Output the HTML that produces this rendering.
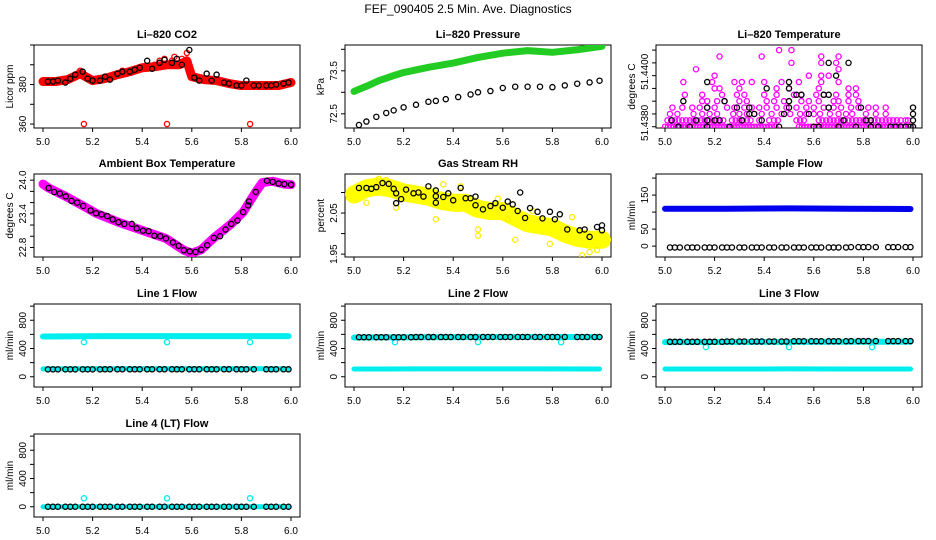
<!DOCTYPE html>
<html><head><meta charset="utf-8">
<style>
html,body{margin:0;padding:0;background:#fff;}
svg{display:block;font-family:"Liberation Sans",Arial,sans-serif;}
</style></head>
<body>
<svg id="chart" width="936" height="540" viewBox="0 0 936 540">
<text x="468" y="13" text-anchor="middle" font-size="12">FEF_090405  2.5 Min. Ave. Diagnostics</text>
</svg>
<script>
// ---------- data ----------
const xTicks = [5.0,5.2,5.4,5.6,5.8,6.0];
const xTickLabels = ["5.0","5.2","5.4","5.6","5.8","6.0"];

// CO2
const co2BlackX = [5.02,5.04,5.06,5.09,5.11,5.13,5.16,5.18,5.20,5.23,5.25,5.27,5.30,5.32,5.35,5.37,5.39,5.42,5.44,5.47,5.49,5.52,5.54,5.56,5.59,5.61,5.63,5.66,5.68,5.70,5.73,5.75,5.78,5.80,5.82,5.85,5.87,5.90,5.92,5.94,5.97,5.99];
const co2BlackY = [381.5,381.5,382,381,383,385,386.5,383,382,382,384,382.5,385.5,386.5,386.5,387.5,388.5,392,388,391,392.5,391,393,390,397.5,383.5,382,385.5,382,385,381,380.5,379.5,379.5,382,379.5,379.5,379.5,379.5,380,380.5,381];
const co2RedX = [5.0,5.05,5.1,5.15,5.2,5.25,5.3,5.35,5.4,5.45,5.5,5.55,5.58,5.6,5.65,5.7,5.75,5.8,5.85,5.9,5.95,6.0];
const co2RedY = [381.5,381.5,382.5,385.5,382,383,385,386.5,388.5,389,390,390,392,384,382.5,382,380.5,379.5,379.5,379.5,379.5,381];
const co2RedPtsX = [5.165,5.5,5.835,5.49,5.53,5.58,5.56,5.15,5.32,5.47,5.52,5.45];
const co2RedPtsY = [360,360,360,393,394,396,393,387,387,392,392,390];

// Pressure
const presBlackX = [5.02,5.05,5.09,5.13,5.16,5.20,5.25,5.30,5.33,5.37,5.42,5.47,5.50,5.55,5.60,5.65,5.70,5.75,5.80,5.85,5.90,5.95,5.99];
const presBlackY = [72.24,72.32,72.43,72.52,72.58,72.65,72.71,72.78,72.80,72.84,72.89,72.95,73.0,73.03,73.1,73.13,73.13,73.13,73.12,73.16,73.2,73.23,73.27];
const presGreenX = [5.0,5.05,5.1,5.15,5.2,5.3,5.4,5.5,5.6,5.7,5.8,5.9,6.0];
const presGreenY = [73.02,73.14,73.27,73.37,73.46,73.58,73.68,73.81,73.91,73.97,73.93,73.99,74.07];

// Li-820 temperature (levels)
const tempMagLevels = [51.4380,51.43825,51.4385,51.43875,51.4390,51.43925,51.4395,51.43975,51.4400,51.44025,51.4405,51.44075,51.4410];
const tempMagXs = [
 [5.0,5.012,5.024,5.036,5.048,5.06,5.072,5.084,5.096,5.108,5.12,5.132,5.144,5.156,5.168,5.18,5.192,5.204,5.216,5.228,5.24,5.252,5.264,5.276,5.288,5.30,5.312,5.324,5.336,5.348,5.36,5.372,5.384,5.396,5.408,5.42,5.432,5.445,5.54,5.552,5.564,5.576,5.588,5.60,5.612,5.624,5.636,5.648,5.66,5.672,5.684,5.696,5.708,5.72,5.732,5.744,5.756,5.768,5.78,5.792,5.804,5.816,5.828,5.84,5.852,5.864,5.876,5.888,5.90,5.912,5.924,5.936,5.948,5.96,5.972,5.984],
 [5.01,5.025,5.04,5.055,5.07,5.085,5.10,5.115,5.13,5.145,5.16,5.175,5.19,5.205,5.22,5.235,5.27,5.285,5.30,5.315,5.33,5.345,5.38,5.42,5.44,5.455,5.53,5.545,5.56,5.62,5.635,5.65,5.665,5.68,5.695,5.71,5.725,5.74,5.755,5.77,5.785,5.80,5.815,5.83,5.845,5.86,5.875,5.89,5.905,5.92,5.935,5.95,5.97,5.98],
 [5.02,5.05,5.115,5.15,5.18,5.21,5.275,5.30,5.33,5.36,5.39,5.43,5.47,5.505,5.545,5.57,5.60,5.625,5.665,5.70,5.73,5.755,5.81,5.85,5.89],
 [5.03,5.07,5.11,5.14,5.17,5.20,5.25,5.28,5.32,5.35,5.38,5.41,5.45,5.49,5.53,5.57,5.60,5.64,5.68,5.71,5.75,5.78,5.82,5.85,5.89],
 [5.15,5.17,5.21,5.24,5.30,5.33,5.41,5.44,5.48,5.55,5.58,5.62,5.68,5.70,5.74,5.78],
 [5.08,5.15,5.23,5.29,5.32,5.40,5.45,5.52,5.55,5.61,5.64,5.69,5.74,5.77],
 [5.20,5.22,5.30,5.45,5.50,5.62,5.74,5.77],
 [5.074,5.19,5.28,5.31,5.35,5.40,5.47,5.54,5.63,5.70],
 [5.20,5.58,5.63,5.66],
 [5.125,5.70],
 [5.51,5.63,5.69],
 [5.22,5.39,5.63,5.70],
 [5.46,5.51]
];
const tempBlackX = [5.027,5.054,5.10,5.125,5.074,5.17,5.17,5.17,5.17,5.20,5.22,5.24,5.26,5.29,5.31,5.34,5.34,5.36,5.39,5.41,5.46,5.48,5.50,5.50,5.50,5.50,5.53,5.55,5.58,5.60,5.62,5.64,5.66,5.66,5.70,5.66,5.69,5.74,5.72,5.77,5.79,5.81,5.83,5.83,5.86,5.91,5.93,5.95,5.97,5.99,6.0,6.0,6.0,6.0];
const tempBlackY = [51.43825,51.4380,51.4380,51.43825,51.4390,51.43975,51.43875,51.43825,51.4380,51.43825,51.43825,51.4390,51.4380,51.43875,51.43825,51.43875,51.4385,51.4385,51.43825,51.4395,51.4380,51.4385,51.43975,51.4390,51.43875,51.4395,51.43925,51.43925,51.4385,51.4380,51.4380,51.43925,51.43875,51.43925,51.4380,51.4405,51.4400,51.4405,51.43825,51.4380,51.43875,51.43825,51.43825,51.4380,51.4380,51.4380,51.4380,51.4380,51.4380,51.4380,51.4380,51.43825,51.4385,51.43875];

// Ambient box temperature
const ambX = [5.023,5.045,5.068,5.092,5.115,5.138,5.162,5.192,5.214,5.236,5.259,5.281,5.304,5.328,5.358,5.378,5.403,5.426,5.449,5.473,5.496,5.524,5.547,5.568,5.592,5.615,5.638,5.662,5.689,5.714,5.736,5.759,5.784,5.807,5.827,5.831,5.858,5.903,5.926,5.95,5.973,6.0];
const ambY = [23.86,23.79,23.76,23.71,23.63,23.60,23.54,23.46,23.41,23.39,23.36,23.30,23.25,23.22,23.22,23.14,23.10,23.09,23.01,23.00,22.96,22.89,22.83,22.75,22.73,22.72,22.76,22.84,22.97,23.00,23.12,23.22,23.28,23.43,23.55,23.62,23.79,23.99,23.97,23.94,23.93,23.92];
const ambMagX = [5.0,5.023,5.092,5.162,5.214,5.304,5.403,5.496,5.568,5.60,5.638,5.689,5.759,5.807,5.858,5.885,5.926,5.973,6.0];
const ambMagY = [23.93,23.86,23.71,23.54,23.41,23.25,23.10,22.96,22.75,22.70,22.76,22.97,23.22,23.43,23.79,23.96,23.98,23.93,23.92];

// Gas stream RH
const rhBlackX = [5.02,5.05,5.07,5.09,5.115,5.14,5.16,5.17,5.17,5.19,5.21,5.24,5.26,5.28,5.30,5.33,5.33,5.33,5.36,5.38,5.40,5.43,5.45,5.47,5.49,5.49,5.52,5.55,5.57,5.60,5.62,5.64,5.66,5.67,5.69,5.71,5.74,5.76,5.79,5.81,5.83,5.86,5.91,5.93,5.95,5.98,6.0,6.0];
const rhBlackY = [2.111,2.111,2.109,2.113,2.123,2.121,2.109,2.098,2.074,2.084,2.107,2.098,2.1,2.09,2.115,2.105,2.091,2.075,2.089,2.098,2.081,2.111,2.086,2.086,2.09,2.069,2.059,2.067,2.074,2.063,2.078,2.071,2.055,2.1,2.038,2.062,2.053,2.037,2.053,2.035,2.047,2.010,2.008,2.010,1.992,2.016,2.02,2.008];
const rhYelX = [5.0,5.05,5.1,5.15,5.2,5.25,5.3,5.35,5.4,5.45,5.5,5.55,5.6,5.65,5.7,5.75,5.8,5.85,5.9,5.95,6.0];
const rhYelY = [2.095,2.11,2.115,2.11,2.1,2.095,2.09,2.08,2.075,2.075,2.06,2.055,2.055,2.04,2.025,2.02,2.015,2.0,1.99,1.985,1.985];
const rhYelPtsX = [5.5,5.5,5.05,5.17,5.33,5.62,5.92,5.95,5.98,5.79,5.65,5.10,5.13,5.36,5.43,5.58,5.72,5.88];
const rhYelPtsY = [2.01,1.995,2.075,2.063,2.035,2.035,1.947,1.955,1.96,1.975,1.985,2.133,2.13,2.12,2.115,2.085,2.055,2.04];

// Flows
const flowX = [5.0,5.25,5.5,5.75,5.99];
const flowBlackX = [5.02,5.04,5.06,5.09,5.11,5.13,5.16,5.18,5.20,5.23,5.25,5.27,5.30,5.32,5.35,5.37,5.39,5.42,5.44,5.47,5.49,5.52,5.54,5.56,5.59,5.61,5.63,5.66,5.68,5.70,5.73,5.75,5.78,5.80,5.82,5.85,5.90,5.92,5.94,5.97,5.99];
const sampleBlue = [110,110,111,110,109];
const sampleBlack = [-4,-4,-4,-3,0];
const line1CyanHi = [570,575,576,576,575];
const line1CyanLo = [112,113,114,113,112];
const line1Black = [105,106,106,106,107];
const line2CyanHi = [555,560,562,562,563];
const line2CyanLo = [110,111,112,111,110];
const line2Black = [560,562,563,563,565];
const line3CyanHi = [490,492,494,495,495];
const line3CyanLo = [110,110,111,110,110];
const line3Black = [495,500,503,505,508];
const line4Cyan = [0,0,0,0,0];
const line4Black = [0,0,0,0,0];
const outlierX = [5.165,5.5,5.835];
const line1Out = [490,490,490];
const line2Out = [490,490,490];
const line3Out = [420,420,420];
const line4Out = [120,120,120];

// ---------- drawing ----------
const NS = "http://www.w3.org/2000/svg";
const svg = document.getElementById("chart");
const colLeft = [34,345,656], rowTop = [45,174,304,434], W = 266, H = 83;
function mk(tag, attrs, parent){ const e=document.createElementNS(NS,tag); for(const k in attrs) e.setAttribute(k,attrs[k]); (parent||svg).appendChild(e); return e; }

function panel(col,row,name,title,ylab,ylim,yTicks,yLabels,labelPos){
  const g = mk("g",{});
  
  
  const L=colLeft[col], T=rowTop[row];
  const xs = v => L+9+(v-5)*248;
  const ys = v => T+H-(v-ylim[0])/(ylim[1]-ylim[0])*H;
  const box = mk("rect",{x:L,y:T,width:W,height:H,fill:"none",stroke:"#000","stroke-width":1},g);
  
  
  const t = mk("text",{x:L+W/2,y:T-7,"text-anchor":"middle","font-size":11,"font-weight":"bold"},g);
  t.textContent = title;
  
  
  const xa = mk("g",{},g);
  
  
  xTicks.forEach((v,i)=>{
    mk("line",{x1:xs(v),x2:xs(v),y1:T+H,y2:T+H+4,stroke:"#000"},xa);
    const tl = mk("text",{x:xs(v),y:T+H+17,"text-anchor":"middle","font-size":10},xa);
    tl.textContent = xTickLabels[i];
    
    
  });
  const ya = mk("g",{},g);
  
  
  yTicks.forEach((v,i)=>{
    mk("line",{x1:L,x2:L-4,y1:ys(v),y2:ys(v),stroke:"#000"},ya);
    if(yLabels[i]){
      const yy = labelPos ? ys(labelPos[i]) : ys(v);
      const tl = mk("text",{x:L-8,y:yy,"text-anchor":"middle","font-size":10,transform:`rotate(-90 ${L-8} ${yy})`},ya);
      tl.textContent = yLabels[i];
      
      
    }
  });
  const yl = mk("text",{x:L-21,y:T+H/2,"text-anchor":"middle","font-size":10,transform:`rotate(-90 ${L-21} ${T+H/2})`},g);
  yl.textContent = ylab;
  
  
  const clip = "c"+col+row;
  const cp = mk("clipPath",{id:clip},g);
  mk("rect",{x:L,y:T,width:W,height:H},cp);
  const plot = mk("g",{"clip-path":`url(#${clip})`},g);
  
  
  return {xs,ys,plot};
}
function band(p,X,Y,color,w,name){
  const pl = mk("polyline",{points:X.map((x,i)=>p.xs(x)+","+p.ys(Y[i])).join(" "),fill:"none",stroke:color,"stroke-width":w,"stroke-linejoin":"round","stroke-linecap":"round"},p.plot);
  
  
}
function pts(p,X,Y,color,name,r){
  const g = mk("g",{},p.plot);
  
  
  X.forEach((x,i)=>{
    const c = mk("circle",{cx:p.xs(x),cy:p.ys(Y[i]),r:r||2.6,fill:"none",stroke:color,"stroke-width":1.3},g);
    
    
  });
}

// CO2
let p = panel(0,0,"co2-panel","Li\u2013820 CO2","Licor ppm",[358,400],[360,370,380,390,400],["360","","380","",""]);
band(p,co2RedX,co2RedY,"#f00",9,"co2-red-band");
pts(p,co2RedPtsX,co2RedPtsY,"#f00","co2-red-points");
pts(p,co2BlackX,co2BlackY,"#000","co2-black-points");

// Pressure
p = panel(1,0,"pressure-panel","Li\u2013820 Pressure","kPa",[72.17,74.1],[72.5,73,73.5,74],["72.5","","73.5",""]);
band(p,presGreenX,presGreenY,"#22cc22",7,"pressure-green-band");
pts(p,presBlackX,presBlackY,"#000","pressure-black-points");

// Li-820 temperature
p = panel(2,0,"li820-temp-panel","Li\u2013820 Temperature","degrees C",[51.43795,51.4412],[51.4380,51.4385,51.4390,51.4395,51.4400,51.4405,51.4410],["51.4380","","","","51.4400","",""],[51.43815,0,0,0,51.44015,0,0]);
const magX=[], magY=[];
tempMagXs.forEach((row,k)=>row.forEach(x=>{magX.push(x);magY.push(tempMagLevels[k]);}));
pts(p,magX,magY,"#f0f","temp-magenta-points");
pts(p,tempBlackX,tempBlackY,"#000","temp-black-points");

// Ambient
p = panel(0,1,"ambient-temp-panel","Ambient Box Temperature","degrees C",[22.63,24.11],[22.8,23.0,23.2,23.4,23.6,23.8,24.0],["22.8","","","23.4","","","24.0"]);
band(p,ambMagX,ambMagY,"#f0f",9,"ambient-magenta-band");
pts(p,ambX,ambY,"#000","ambient-black-points");

// RH
p = panel(1,1,"rh-panel","Gas Stream RH","percent",[1.943,2.145],[1.95,2.0,2.05,2.10],["1.95","","2.05",""]);
band(p,rhYelX,rhYelY,"#ffff00",18,"rh-yellow-band");
pts(p,rhYelPtsX,rhYelPtsY,"#ffee00","rh-yellow-points");
pts(p,rhBlackX,rhBlackY,"#000","rh-black-points");

// Sample flow
p = panel(2,1,"sample-flow-panel","Sample Flow","ml/min",[-32,212],[0,50,100,150,200],["0","50","","150",""]);
band(p,flowX,sampleBlue,"#0000ee",6,"sample-blue-band");
function blackAt(arr){ return flowBlackX.map(x=>arr[Math.min(4,Math.floor((x-5)*4))]); }
pts(p,flowBlackX,blackAt(sampleBlack),"#000","sample-black-points");

const fl = [-145,1030], ft=[0,200,400,600,800,1000], fl2=["0","","400","","800",""];

p = panel(0,2,"line1-flow-panel","Line 1 Flow","ml/min",fl,ft,fl2);
band(p,flowX,line1CyanHi,"#00eeee",6,"line1-cyan-high");
band(p,flowX,line1CyanLo,"#00eeee",5,"line1-cyan-low");
pts(p,outlierX,line1Out,"#00eeee","line1-outliers");
pts(p,flowBlackX,blackAt(line1Black),"#000","line1-black-points");

p = panel(1,2,"line2-flow-panel","Line 2 Flow","ml/min",fl,ft,fl2);
band(p,flowX,line2CyanHi,"#00eeee",6,"line2-cyan-high");
band(p,flowX,line2CyanLo,"#00eeee",5,"line2-cyan-low");
pts(p,outlierX,line2Out,"#00eeee","line2-outliers");
pts(p,flowBlackX,blackAt(line2Black),"#000","line2-black-points");

p = panel(2,2,"line3-flow-panel","Line 3 Flow","ml/min",fl,ft,fl2);
band(p,flowX,line3CyanHi,"#00eeee",6,"line3-cyan-high");
band(p,flowX,line3CyanLo,"#00eeee",5,"line3-cyan-low");
pts(p,outlierX,line3Out,"#00eeee","line3-outliers");
pts(p,flowBlackX,blackAt(line3Black),"#000","line3-black-points");

p = panel(0,3,"line4-flow-panel","Line 4 (LT) Flow","ml/min",fl,ft,fl2);
band(p,flowX,line4Cyan,"#00eeee",5,"line4-cyan-band");
pts(p,outlierX,line4Out,"#00eeee","line4-outliers");
pts(p,flowBlackX,blackAt(line4Black),"#000","line4-black-points");
</script>
</body></html>
